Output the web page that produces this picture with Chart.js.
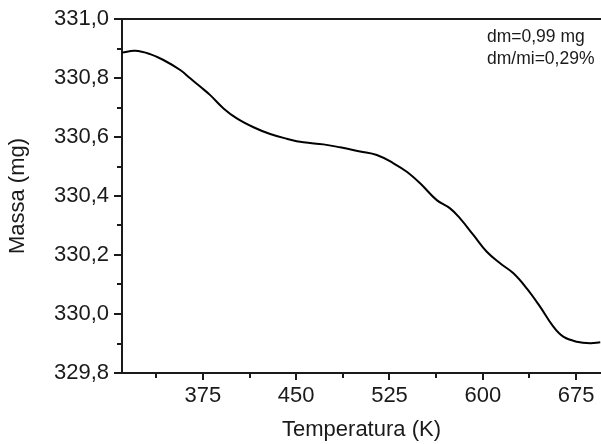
<!DOCTYPE html>
<html>
<head>
<meta charset="utf-8">
<script src="https://cdn.jsdelivr.net/npm/chart.js@4.4.1/dist/chart.umd.min.js"></script>
<style>
  html, body { margin: 0; padding: 0; background: #fff; }
  #wrap { width: 601px; height: 444px; }
</style>
</head>
<body>
<div id="wrap"><canvas id="tga" width="601" height="444"></canvas></div>
<script>
// Thermogravimetric curve: sample mass vs. temperature
const temperatureK = [310.1, 320.6, 332.6, 343.3, 356.8, 364.8, 372.8, 380.9, 391.6, 402.3, 415.7, 429.1, 442.5, 455.8, 471.9, 485.3, 501.4, 514.8, 528.2, 538.9, 549.6, 563.0, 573.7, 581.7, 592.4, 603.2, 613.9, 624.6, 635.3, 646.0, 656.7, 664.7, 675.6, 686.3, 694.4];
const massMg = [330.886, 330.892, 330.881, 330.861, 330.827, 330.799, 330.771, 330.742, 330.697, 330.663, 330.633, 330.610, 330.594, 330.582, 330.575, 330.565, 330.551, 330.539, 330.511, 330.482, 330.443, 330.386, 330.358, 330.324, 330.268, 330.211, 330.172, 330.138, 330.087, 330.025, 329.957, 329.923, 329.906, 329.901, 329.904];

const xMajorTicks = [375, 450, 525, 600, 675];
const xMinorTicks = [337.5, 412.5, 487.5, 562.5, 637.5];
const yMajorTicks = [329.8, 330.0, 330.2, 330.4, 330.6, 330.8, 331.0];
const yMinorTicks = [329.9, 330.1, 330.3, 330.5, 330.7, 330.9];

const annotationLines = ['dm=0,99 mg', 'dm/mi=0,29%'];

const FONT = 'Liberation Sans, Arial, sans-serif';
const INK = '#1a1a1a';

// minor ticks, top frame line and the text box
const extras = {
  id: 'extras',
  afterDraw(chart) {
    const { ctx, chartArea, scales } = chart;
    ctx.save();
    ctx.strokeStyle = INK;
    ctx.lineWidth = 2;
    ctx.beginPath();
    xMinorTicks.forEach(v => {
      const px = Math.round(scales.x.getPixelForValue(v));
      ctx.moveTo(px, chartArea.bottom);
      ctx.lineTo(px, chartArea.bottom + 5);
    });
    yMinorTicks.forEach(v => {
      const py = Math.round(scales.y.getPixelForValue(v));
      ctx.moveTo(chartArea.left, py);
      ctx.lineTo(chartArea.left - 5, py);
    });
    ctx.moveTo(chartArea.left - 1, chartArea.top);
    ctx.lineTo(chartArea.right, chartArea.top);
    ctx.stroke();

    ctx.fillStyle = INK;
    ctx.font = '17.5px ' + FONT;
    ctx.textBaseline = 'alphabetic';
    ctx.textAlign = 'left';
    annotationLines.forEach((t, i) => {
      ctx.fillText(t, chartArea.right - 114, chartArea.top + 23 + i * 21.5);
    });
    ctx.restore();
  }
};

const fmt = v => Number(v).toFixed(1).replace('.', ',');

new Chart(document.getElementById('tga'), {
  type: 'line',
  data: {
    datasets: [{
      data: temperatureK.map((t, i) => ({ x: t, y: massMg[i] })),
      borderColor: '#000',
      borderWidth: 2,
      pointRadius: 0,
      fill: false,
      tension: 0.4
    }]
  },
  options: {
    responsive: false,
    animation: false,
    devicePixelRatio: 1,
    layout: { padding: { left: 0, top: 19, right: 0, bottom: 0 } },
    plugins: { legend: { display: false }, tooltip: { enabled: false } },
    scales: {
      x: {
        type: 'linear',
        min: 310,
        max: 695,
        afterBuildTicks: s => { s.ticks = xMajorTicks.map(v => ({ value: v })); },
        afterFit: s => { s.height = 71; },
        border: { display: true, color: INK, width: 2 },
        grid: { display: true, drawOnChartArea: false, drawTicks: true, tickLength: 7, color: INK, lineWidth: 2 },
        ticks: { color: INK, font: { family: FONT, size: 22 }, padding: 3, maxRotation: 0, autoSkip: false },
        title: { display: true, text: 'Temperatura (K)', color: INK, font: { family: FONT, size: 22 }, padding: { top: 4, bottom: 1 } }
      },
      y: {
        type: 'linear',
        min: 329.8,
        max: 331.0,
        afterBuildTicks: s => { s.ticks = yMajorTicks.map(v => ({ value: v })); },
        afterFit: s => { s.width = 122; },
        border: { display: true, color: INK, width: 2 },
        grid: { display: true, drawOnChartArea: false, drawTicks: true, tickLength: 8, color: INK, lineWidth: 2 },
        ticks: { color: INK, font: { family: FONT, size: 22 }, padding: 5, callback: v => fmt(v), autoSkip: false },
        title: { display: true, text: 'Massa (mg)', color: INK, font: { family: FONT, size: 22 }, padding: { top: 5, bottom: 4 } }
      }
    }
  },
  plugins: [extras]
});
</script>
</body>
</html>
